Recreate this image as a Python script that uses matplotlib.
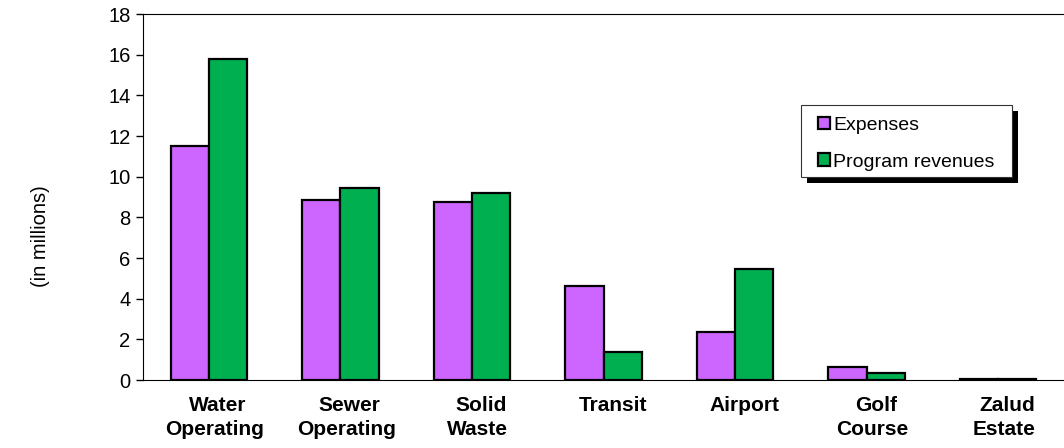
import matplotlib.pyplot as plt
import matplotlib.transforms as mtransforms
import numpy as np
from matplotlib.patches import Rectangle

plt.rcParams['font.family'] = ['Liberation Sans', 'DejaVu Sans']

categories = ['Water\nOperating', 'Sewer\nOperating', 'Solid\nWaste', 'Transit',
              'Airport', 'Golf\nCourse', 'Zalud\nEstate']
expenses = [11.5, 8.85, 8.75, 4.62, 2.36, 0.64, 0.05]
revenues = [15.8, 9.45, 9.2, 1.38, 5.45, 0.35, 0.03]

fig = plt.figure(figsize=(10.64, 4.48), dpi=100)
ax = fig.add_axes([143 / 1064, 68 / 448, 1 - 143 / 1064, 366 / 448])

x = np.arange(len(categories)) + 0.5
w = 0.29
ax.bar(x - w / 2, expenses, w, color='#cc66ff', edgecolor='black', linewidth=1.6,
       label='Expenses')
ax.bar(x + w / 2, revenues, w, color='#00b050', edgecolor='black', linewidth=1.6,
       label='Program revenues')

ax.set_xlim(0, len(categories))
ax.set_ylim(0, 18)
ax.set_yticks(range(0, 19, 2))
ax.tick_params(axis='y', labelsize=14.5, length=5, width=1, pad=4)
ax.set_xticks([])
ax.spines['right'].set_visible(False)

# category labels, up to two lines; the first line sits a bit to the right
trans = ax.get_xaxis_transform()
for xi, name in zip(x, categories):
    lines = name.split('\n')
    ax.text(xi + 0.07, -0.045, lines[0], transform=trans, ha='center', va='top',
            fontsize=15, fontweight='bold')
    if len(lines) > 1:
        ax.text(xi + 0.045, -0.108, lines[1], transform=trans, ha='center',
                va='top', fontsize=15, fontweight='bold')

fig.text(41 / 1064, 1 - 236 / 448, '(in millions)', rotation=90, fontsize=14.5,
         ha='center', va='center')

leg = ax.legend(loc='upper left', bbox_to_anchor=(0.733, 0.719), fontsize=14,
                frameon=False, handlelength=0.62, handleheight=0.62,
                handletextpad=0.15, labelspacing=1.0, borderpad=0,
                borderaxespad=0)

# Excel-style legend box with a hard black drop shadow
fig.canvas.draw()
bb = leg.get_window_extent()
x0, x1 = bb.x0 - 17, bb.x1 + 18
y0, y1 = bb.y0 - 6, bb.y1 + 12
ident = mtransforms.IdentityTransform()
ax.add_artist(Rectangle((x0 + 6, y0 - 6), x1 - x0, y1 - y0, transform=ident,
                        facecolor='black', edgecolor='none', zorder=4.8))
ax.add_artist(Rectangle((x0, y0), x1 - x0, y1 - y0, transform=ident,
                        facecolor='white', edgecolor='#333333', linewidth=0.8,
                        zorder=4.9))

plt.savefig('out.png', dpi=100)
